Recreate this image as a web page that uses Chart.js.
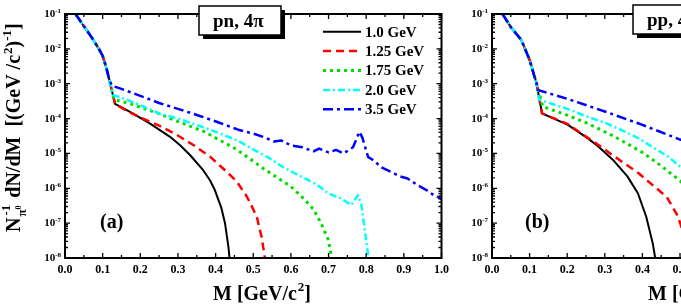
<!DOCTYPE html>
<html lang="en">
<head>
<meta charset="UTF-8">
<title>Dielectron mass spectra</title>
<script src="https://cdn.jsdelivr.net/npm/chart.js"></script>
<style>
    html, body { margin: 0; padding: 0; background: #fff; overflow: hidden; }
    #wrap { position: relative; width: 681px; height: 308px; overflow: hidden; }
    canvas { position: absolute; top: 0; }
    #left { left: 0; }
    #right { left: 460px; }
</style>
</head>
<body>
<div id="wrap">
    <canvas id="left" width="466" height="308"></canvas>
    <canvas id="right" width="420" height="308"></canvas>
</div>
<script>
// tick labels
const xTickLabels = ['0.0', '0.1', '0.2', '0.3', '0.4', '0.5', '0.6', '0.7', '0.8', '0.9', '1.0'];
const yTickExponents = [-1, -2, -3, -4, -5, -6, -7, -8];
const beamEnergies = ['1.0 GeV', '1.25 GeV', '1.75 GeV', '2.0 GeV', '3.5 GeV'];

// pn, 4pi : shared pi0 Dalitz part
const pnLowMass = [0.028, 0.05, 0.07, 0.09, 0.10, 0.11, 0.118];
const pnLowVal  = [1.0e-1, 4.5e-2, 2.2e-2, 1.0e-2, 6.3e-3, 2.8e-3, 1.26e-3];

const pnMass10  = [0.133, 0.18, 0.226, 0.279, 0.305, 0.332, 0.367, 0.385, 0.398, 0.415, 0.425, 0.434, 0.437];
const pnVal10   = [2.63e-4, 1.41e-4, 7.2e-5, 3.0e-5, 1.75e-5, 9.0e-6, 3.3e-6, 1.7e-6, 8.9e-7, 2.8e-7, 1.0e-7, 2.1e-8, 1.0e-8];
const pnMass125 = [0.133, 0.164, 0.2, 0.25, 0.297, 0.341, 0.385, 0.42, 0.456, 0.483, 0.509, 0.522, 0.531];
const pnVal125  = [2.63e-4, 1.66e-4, 1.07e-4, 6.3e-5, 3.4e-5, 1.74e-5, 8.1e-6, 3.7e-6, 1.58e-6, 5.8e-7, 1.58e-7, 4.1e-8, 1.0e-8];
const pnMass175 = [0.13, 0.17, 0.21, 0.25, 0.28, 0.37, 0.456, 0.53, 0.6, 0.63, 0.66, 0.68, 0.70, 0.708];
const pnVal175  = [3.5e-4, 2.75e-4, 1.95e-4, 1.38e-4, 1.0e-4, 4.2e-5, 1.3e-5, 3.5e-6, 1.12e-6, 5.6e-7, 2.5e-7, 1.0e-7, 3.2e-8, 1.0e-8];
const pnMass20  = [0.127, 0.164, 0.2, 0.25, 0.3, 0.36, 0.41, 0.46, 0.5, 0.545, 0.58, 0.63, 0.67, 0.70, 0.735, 0.76, 0.778, 0.787, 0.797, 0.806];
const pnVal20   = [4.8e-4, 3.5e-4, 2.4e-4, 1.4e-4, 1.0e-4, 6.0e-5, 3.8e-5, 2.3e-5, 1.3e-5, 7.1e-6, 4.0e-6, 2.1e-6, 1.26e-6, 7.1e-7, 5.0e-7, 3.3e-7, 6.3e-7, 3.5e-7, 5.6e-8, 1.0e-8];
const pnMass35  = [0.125, 0.15, 0.2, 0.25, 0.3, 0.36, 0.41, 0.46, 0.5, 0.53, 0.555, 0.575, 0.6, 0.63, 0.66, 0.675, 0.70, 0.72, 0.74, 0.765, 0.782, 0.79, 0.805, 0.82, 0.84, 0.87, 0.89, 0.91, 0.935, 0.96, 0.98, 1.0];
const pnVal35   = [8.7e-4, 7.1e-4, 4.5e-4, 2.8e-4, 1.9e-4, 1.17e-4, 7.6e-5, 4.8e-5, 3.7e-5, 2.9e-5, 2.2e-5, 2.35e-5, 1.7e-5, 1.5e-5, 1.15e-5, 1.38e-5, 1.07e-5, 1.26e-5, 1.0e-5, 1.5e-5, 4.2e-5, 2.8e-5, 7.9e-6, 6.3e-6, 4.0e-6, 2.8e-6, 2.2e-6, 1.9e-6, 1.26e-6, 8.9e-7, 6.3e-7, 5.0e-7];

// pp, 4pi
const ppLowMass = [0.028, 0.05, 0.078, 0.10, 0.113, 0.118];
const ppLowVal  = [1.0e-1, 4.2e-2, 1.8e-2, 4.8e-3, 1.6e-3, 1.1e-3];

const ppMass10  = [0.122, 0.133, 0.202, 0.255, 0.282, 0.322, 0.36, 0.388, 0.41, 0.428, 0.434];
const ppVal10   = [6.3e-4, 1.41e-4, 6.6e-5, 2.7e-5, 1.6e-5, 6.5e-6, 2.2e-6, 7.2e-7, 1.55e-7, 2.5e-8, 1.0e-8];
const ppMass125 = [0.122, 0.133, 0.202, 0.255, 0.273, 0.317, 0.39, 0.432, 0.465, 0.494, 0.51, 0.525];
const ppVal125  = [6.3e-4, 1.41e-4, 6.9e-5, 2.8e-5, 2.1e-5, 9.5e-6, 2.7e-6, 1.12e-6, 5.6e-7, 1.6e-7, 5.0e-8, 1.0e-8];
const ppMass175 = [0.135, 0.2, 0.255, 0.322, 0.397, 0.441, 0.5, 0.55];
const ppVal175  = [2.2e-4, 1.26e-4, 7.2e-5, 3.2e-5, 1.12e-5, 5.2e-6, 1.66e-6, 5.0e-7];
const ppMass20  = [0.125, 0.2, 0.255, 0.3, 0.344, 0.39, 0.432, 0.47, 0.5, 0.55];
const ppVal20   = [3.5e-4, 1.9e-4, 1.12e-4, 7.6e-5, 4.7e-5, 2.7e-5, 1.4e-5, 7.9e-6, 4.2e-6, 2.0e-6];
const ppMass35  = [0.122, 0.2, 0.3, 0.4, 0.5, 0.55];
const ppVal35   = [6.6e-4, 3.7e-4, 1.6e-4, 6.6e-5, 2.5e-5, 1.7e-5];

const lineStyles = [
    { color: '#000000', width: 2,   dash: [] },
    { color: '#ff0000', width: 2.5, dash: [8, 5] },
    { color: '#00dd00', width: 3,   dash: [3, 4] },
    { color: '#00ffff', width: 2.5, dash: [7, 3, 2, 3] },
    { color: '#0000ff', width: 2.5, dash: [10, 4, 3, 4] }
];

const serif = '"Liberation Serif", "Times New Roman", serif';

function points(lowM, lowV, m, v) {
    const mm = lowM.concat(m);
    const vv = lowV.concat(v);
    return mm.map((x, i) => ({ x: x, y: vv[i] }));
}

function makeDatasets(low, series) {
    return series.map((s, i) => ({
        label: beamEnergies[i],
        data: points(low[0], low[1], s[0], s[1]),
        borderColor: lineStyles[i].color,
        borderWidth: lineStyles[i].width,
        borderDash: lineStyles[i].dash,
        borderJoinStyle: 'round',
        pointRadius: 0,
        tension: 0,
        fill: false
    })).reverse();
}

// frame, inward ticks, tick labels, titles, legend
const decorPlugin = {
    id: 'decor',
    afterDraw(chart, args, opts) {
        const ctx = chart.ctx;
        const a = chart.chartArea;
        const xs = chart.scales.x;
        const ys = chart.scales.y;
        ctx.save();
        ctx.strokeStyle = '#000';
        ctx.fillStyle = '#000';

        // ticks
        ctx.lineWidth = 1.3;
        ctx.beginPath();
        xTickLabels.forEach((lab, i) => {
            const v = Number(lab);
            const px = xs.getPixelForValue(v);
            ctx.moveTo(px, a.bottom); ctx.lineTo(px, a.bottom - 5);
            ctx.moveTo(px, a.top); ctx.lineTo(px, a.top + 5);
            if (i < xTickLabels.length - 1) {
                const pm = xs.getPixelForValue(v + 0.05);
                ctx.moveTo(pm, a.bottom); ctx.lineTo(pm, a.bottom - 3);
                ctx.moveTo(pm, a.top); ctx.lineTo(pm, a.top + 3);
            }
        });
        yTickExponents.forEach((e) => {
            const py = ys.getPixelForValue(Math.pow(10, e));
            ctx.moveTo(a.left, py); ctx.lineTo(a.left + 5, py);
            ctx.moveTo(a.right, py); ctx.lineTo(a.right - 5, py);
            if (e < -1) {
                for (let m = 2; m <= 9; m++) {
                    const pm = ys.getPixelForValue(m * Math.pow(10, e));
                    ctx.moveTo(a.left, pm); ctx.lineTo(a.left + 3, pm);
                    ctx.moveTo(a.right, pm); ctx.lineTo(a.right - 3, pm);
                }
            }
        });
        ctx.stroke();

        ctx.lineWidth = 2;
        ctx.strokeRect(a.left, a.top, a.right - a.left, a.bottom - a.top);

        // tick labels
        ctx.font = 'bold 12px ' + serif;
        ctx.textAlign = 'center';
        ctx.textBaseline = 'alphabetic';
        xTickLabels.forEach((lab) => {
            ctx.fillText(lab, xs.getPixelForValue(Number(lab)), a.bottom + 15);
        });
        ctx.textAlign = 'left';
        yTickExponents.forEach((e) => {
            const py = ys.getPixelForValue(Math.pow(10, e));
            ctx.font = 'bold 7px ' + serif;
            const sup = String(e);
            const sw = ctx.measureText(sup).width;
            ctx.font = 'bold 11px ' + serif;
            const bw = ctx.measureText('10').width;
            const x0 = a.left - 4 - sw - bw;
            ctx.fillText('10', x0, py + 3);
            ctx.font = 'bold 7px ' + serif;
            ctx.fillText(sup, x0 + bw, py - 1);
        });

        // x axis title
        const tx = a.left + opts.xTitleOffset;
        let cx = tx;
        ctx.font = 'bold 20px ' + serif;
        ctx.fillText('M [GeV/c', cx, 300);
        cx += ctx.measureText('M [GeV/c').width;
        ctx.font = 'bold 13px ' + serif;
        ctx.fillText('2', cx + 1, 291);
        cx += ctx.measureText('2').width + 1;
        ctx.font = 'bold 20px ' + serif;
        ctx.fillText(']', cx, 300);

        // y axis title
        if (opts.yTitle) {
            ctx.save();
            ctx.translate(20, 232);
            ctx.rotate(-Math.PI / 2);
            let p = 0;
            ctx.font = 'bold 20px ' + serif;
            ctx.fillText('N', p, 0);
            p += ctx.measureText('N').width;
            ctx.font = 'bold 13px ' + serif;
            ctx.fillText('\u03c0', p + 1, 6);
            const piw = ctx.measureText('\u03c0').width;
            ctx.font = 'bold 8px ' + serif;
            ctx.fillText('0', p + 1 + piw, 1);
            const zw = ctx.measureText('0').width;
            ctx.font = 'bold 13px ' + serif;
            ctx.fillText('-1', p + 2, -10);
            const sw = ctx.measureText('-1').width;
            p += Math.max(piw + zw + 1, sw + 2) + 2;
            ctx.font = 'bold 20px ' + serif;
            const mid = ' dN/dM  [(GeV /c';
            ctx.fillText(mid, p, 0);
            p += ctx.measureText(mid).width;
            ctx.font = 'bold 13px ' + serif;
            ctx.fillText('2', p + 1, -8);
            p += ctx.measureText('2').width + 1;
            ctx.font = 'bold 20px ' + serif;
            ctx.fillText(')', p, 0);
            p += ctx.measureText(')').width;
            ctx.font = 'bold 13px ' + serif;
            ctx.fillText('-1', p, -9);
            p += ctx.measureText('-1').width;
            ctx.font = 'bold 20px ' + serif;
            ctx.fillText(']', p, 0);
            ctx.restore();
        }

        // reaction box with shadow
        const b = opts.box;
        ctx.fillStyle = '#000';
        ctx.fillRect(b.x + 4, b.y + 4, b.w, b.h);
        ctx.fillStyle = '#fff';
        ctx.fillRect(b.x, b.y, b.w, b.h);
        ctx.lineWidth = 1.5;
        ctx.strokeRect(b.x, b.y, b.w, b.h);
        ctx.fillStyle = '#000';
        ctx.font = 'bold 19px ' + serif;
        ctx.textAlign = 'left';
        ctx.fillText(opts.reaction, b.x + 14, b.y + 21);

        // panel tag
        ctx.font = 'bold 20px ' + serif;
        ctx.fillText(opts.tag, a.left + opts.tagOffset, 228);

        // legend
        if (opts.legend) {
            const ds = chart.data.datasets.slice().reverse();
            ds.forEach((d, i) => {
                const ly = 31.7 + i * 19.4;
                ctx.save();
                ctx.strokeStyle = d.borderColor;
                ctx.lineWidth = d.borderWidth;
                ctx.setLineDash(d.borderDash);
                ctx.beginPath();
                ctx.moveTo(323, ly);
                ctx.lineTo(361, ly);
                ctx.stroke();
                ctx.restore();
                ctx.font = 'bold 15px ' + serif;
                ctx.textBaseline = 'middle';
                ctx.fillText(d.label, 365, ly + 1);
                ctx.textBaseline = 'alphabetic';
            });
        }
        ctx.restore();
    }
};

function makeChart(id, datasets, padding, decor) {
    return new Chart(document.getElementById(id), {
        type: 'line',
        data: { datasets: datasets },
        options: {
            responsive: false,
            animation: false,
            devicePixelRatio: 1,
            layout: { padding: padding },
            scales: {
                x: { type: 'linear', min: 0, max: 1, display: false },
                y: { type: 'logarithmic', min: 1e-8, max: 1e-1, display: false }
            },
            plugins: {
                legend: { display: false },
                tooltip: { enabled: false },
                decor: decor
            }
        },
        plugins: [decorPlugin]
    });
}

makeChart('left',
    makeDatasets([pnLowMass, pnLowVal], [
        [pnMass10, pnVal10], [pnMass125, pnVal125], [pnMass175, pnVal175], [pnMass20, pnVal20], [pnMass35, pnVal35]
    ]),
    { left: 65, top: 14, right: 24.5, bottom: 50 },
    { yTitle: true, legend: true, reaction: 'pn, 4\u03c0', box: { x: 199, y: 6, w: 82, h: 29 },
      tag: '(a)', tagOffset: 35, xTitleOffset: 148 });

makeChart('right',
    makeDatasets([ppLowMass, ppLowVal], [
        [ppMass10, ppVal10], [ppMass125, ppVal125], [ppMass175, ppVal175], [ppMass20, ppVal20], [ppMass35, ppVal35]
    ]),
    { left: 32, top: 14, right: 12, bottom: 50 },
    { yTitle: false, legend: false, reaction: 'pp, 4\u03c0', box: { x: 173, y: 5, w: 82, h: 29 },
      tag: '(b)', tagOffset: 33, xTitleOffset: 156 });
</script>
</body>
</html>
